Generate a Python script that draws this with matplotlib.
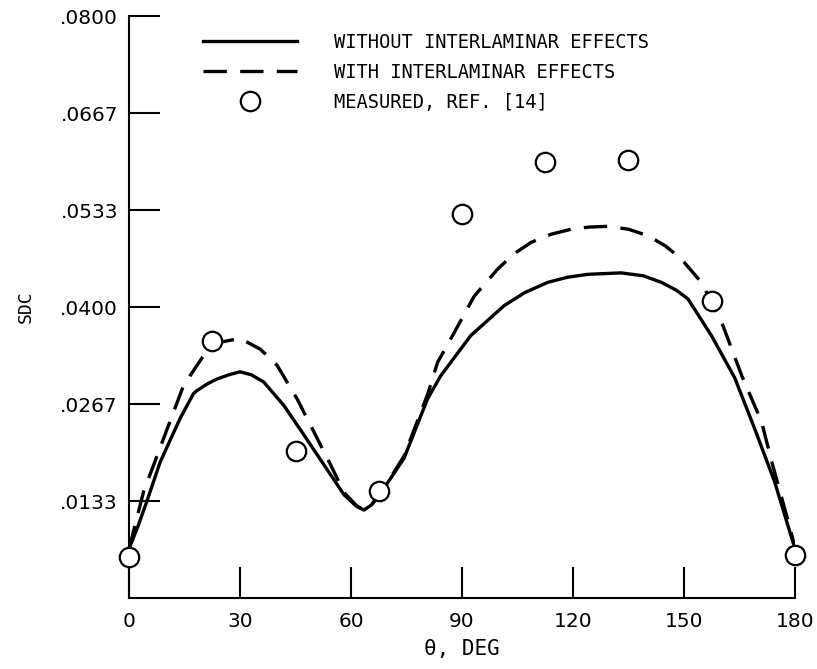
import numpy as np
import matplotlib.pyplot as plt

# measured points, REF. [14]
theta_meas = [0, 22.5, 45, 67.5, 90, 112.5, 135, 157.5, 180]
sdc_meas = [0.0056, 0.0354, 0.0202, 0.0147, 0.0528, 0.0600, 0.0602, 0.0409, 0.0059]

# without interlaminar effects (solid)
theta_wo = [0, 2.5, 4.8, 8.4, 13.8, 17.4, 18.3, 21.0, 23.7, 27.0, 30, 33.0, 36.4,
            41.8, 47.3, 52.7, 58.1, 61.5, 63.5, 65.5, 68.0, 74.3, 80.7, 84.3,
            92.4, 101.4, 107.0, 113.2, 118.5, 124, 133, 139.0, 143.9, 148.0,
            151.1, 157.4, 163.7, 169.1, 174.5, 180]
sdc_wo = [0.0068, 0.0100, 0.0133, 0.0187, 0.0247, 0.0281, 0.0285, 0.0294, 0.0301,
          0.0307, 0.0311, 0.0307, 0.0297, 0.0265, 0.0224, 0.0183, 0.0142, 0.0126,
          0.0121, 0.0128, 0.0144, 0.0192, 0.0274, 0.0306, 0.0361, 0.0402, 0.0420,
          0.0434, 0.0441, 0.0445, 0.0447, 0.0443, 0.0434, 0.0423, 0.0411, 0.0361,
          0.0303, 0.0233, 0.0160, 0.0068]

# with interlaminar effects (dashed)
theta_w = [0, 3.9, 9.3, 14.7, 20.1, 25.0, 30, 35.5, 40, 45.4, 50, 54.5, 58.1,
           61.5, 63.5, 65.5, 68.0, 74.3, 80.7, 83.4, 87.9, 93.3, 99.6, 104.0,
           108.7, 114.0, 119.5, 124.5, 129.4, 135.0, 140.3, 145.0, 149.3, 154.7,
           160.2, 165.6, 171, 173.7, 178.2, 180]
sdc_w = [0.0068, 0.0146, 0.0219, 0.0292, 0.0333, 0.0352, 0.0357, 0.0342, 0.0320,
         0.0274, 0.0228, 0.0183, 0.0145, 0.0127, 0.0121, 0.0128, 0.0144, 0.0195,
         0.0280, 0.0324, 0.0365, 0.0415, 0.0452, 0.0473, 0.0489, 0.0500, 0.0507,
         0.0510, 0.0511, 0.0507, 0.0498, 0.0484, 0.0466, 0.0434, 0.0379, 0.0306,
         0.0242, 0.0188, 0.0105, 0.0070]

xticks = [0, 30, 60, 90, 120, 150, 180]
yticks = [0.013333, 0.026667, 0.04, 0.053333, 0.066667, 0.08]
ytick_labels = [".0133", ".0267", ".0400", ".0533", ".0667", ".0800"]

fig = plt.figure(figsize=(8.17, 6.69), dpi=100)
ax = fig.add_axes([0.158, 0.106, 0.815, 0.870])

ax.plot(theta_wo, sdc_wo, "k-", lw=2.4, solid_joinstyle="round",
        label="WITHOUT INTERLAMINAR EFFECTS")
ax.plot(theta_w, sdc_w, "k-", lw=2.4, dashes=(7, 4),
        label="WITH INTERLAMINAR EFFECTS")
ax.plot(theta_meas, sdc_meas, "o", ms=14, mfc="white", mec="black", mew=1.6,
        clip_on=False, zorder=5, label="MEASURED, REF. [14]")

ax.set_xlim(0, 180)
ax.set_ylim(0, 0.08)
ax.set_xticks(xticks)
ax.set_xticklabels([str(t) for t in xticks])
ax.set_yticks(yticks)
ax.set_yticklabels(ytick_labels)
ax.spines["top"].set_visible(False)
ax.spines["right"].set_visible(False)
for s in ("left", "bottom"):
    ax.spines[s].set_linewidth(1.5)
ax.tick_params(direction="in", length=22, width=1.5, labelsize=14.5)
ax.tick_params(axis="y", pad=8)
ax.tick_params(axis="x", pad=10)

ax.set_ylabel("SDC", fontsize=13, family="DejaVu Sans Mono", labelpad=18)
ax.set_xlabel("\u03b8, DEG", fontsize=15, family="DejaVu Sans Mono", labelpad=6)

leg = ax.legend(loc="upper left", bbox_to_anchor=(0.086, 1.0), frameon=False,
                handlelength=5.0, handletextpad=2.0, labelspacing=0.58,
                prop={"family": "DejaVu Sans Mono", "size": 13.5})

plt.savefig("out.png")
